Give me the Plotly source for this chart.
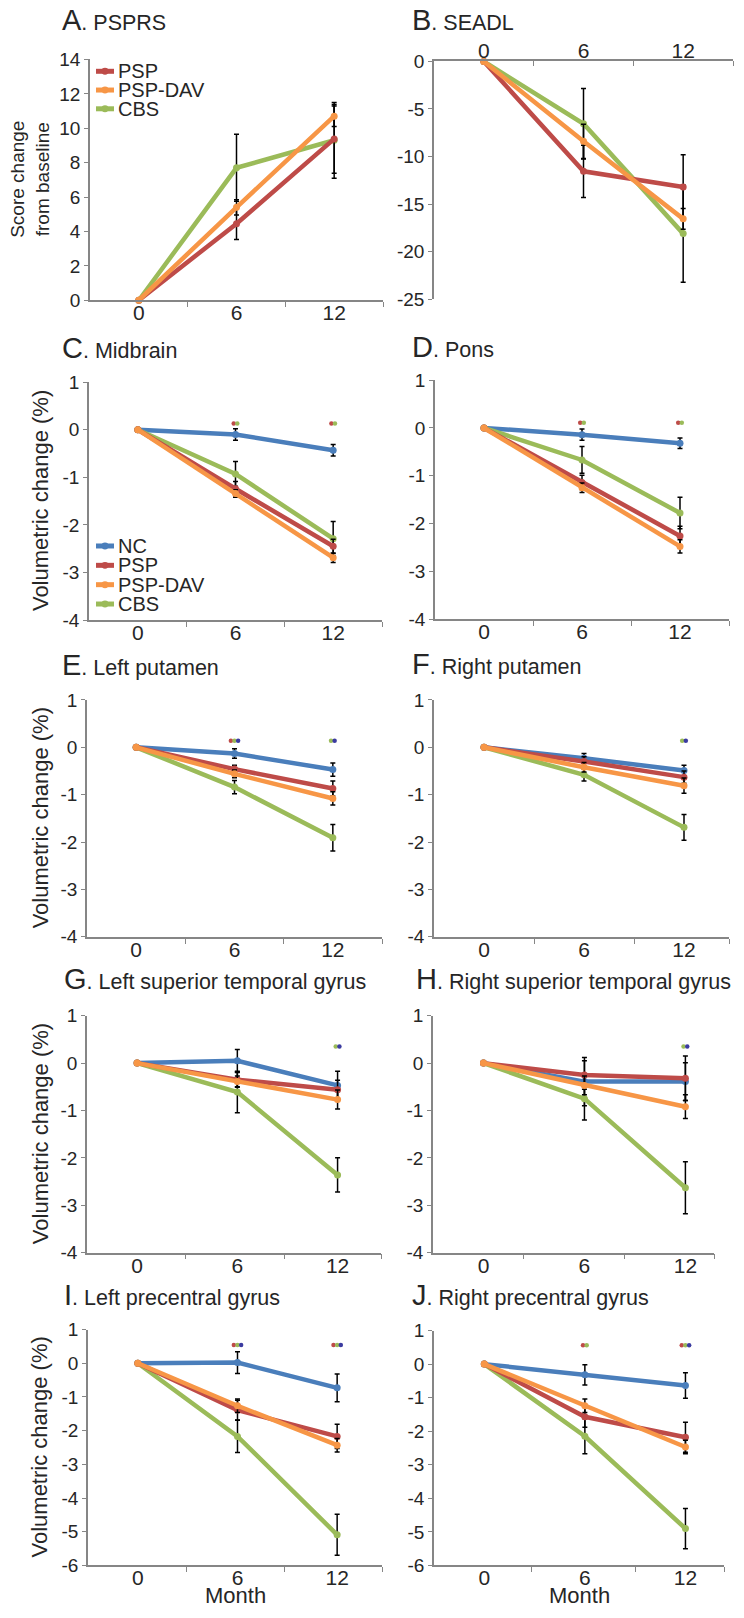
import plotly.graph_objects as go

# the page body adds an 8px margin on every side; size the figure so the page is exactly 744x1618
OFF = 8
W, H = 744 - 2 * OFF, 1618 - 2 * OFF
FONT = "Liberation Sans, Arial, sans-serif"

months = [0, 6, 12]
month_labels = ["0", "6", "12"]
groups = ["NC", "PSP", "PSP-DAV", "CBS"]
draw_order = ["NC", "CBS", "PSP", "PSP-DAV"]
group_colors = {"NC": "#4A7EBB", "PSP": "#BE4B48", "PSP-DAV": "#F79646", "CBS": "#9BBB59"}
sig_colors = {"PSP vs NC": "#BE4B48", "CBS vs NC": "#9BBB59", "CBS vs PSP": "#3B3BA0"}

# y tick values per panel type
psprs_yticks = [0, 2, 4, 6, 8, 10, 12, 14]
seadl_yticks = [-25, -20, -15, -10, -5, 0]
vol_yticks = [-4, -3, -2, -1, 0, 1]
pre_yticks = [-6, -5, -4, -3, -2, -1, 0, 1]

# A. PSPRS
psprs_mean = {"PSP": [0, 4.45, 9.38], "PSP-DAV": [0, 5.4, 10.7], "CBS": [0, 7.7, 9.3]}
psprs_se = {"PSP": [None, 0.92, 2.0], "PSP-DAV": [None, 0.45, 0.6], "CBS": [None, 1.95, 2.2]}
# B. SEADL
seadl_mean = {"PSP": [0, -11.55, -13.2], "PSP-DAV": [0, -8.4, -16.55], "CBS": [0, -6.55, -18.1]}
seadl_se = {"PSP": [None, 2.75, 3.4], "PSP-DAV": [None, 1.8, 1.1], "CBS": [None, 3.7, 5.1]}
# C. Midbrain
midbrain_mean = {"NC": [0, -0.10, -0.43], "PSP": [0, -1.24, -2.45], "PSP-DAV": [0, -1.34, -2.69], "CBS": [0, -0.93, -2.29]}
midbrain_se = {"NC": [None, 0.12, 0.12], "PSP": [None, 0.15, 0.15], "PSP-DAV": [None, 0.08, 0.1], "CBS": [None, 0.26, 0.36]}
midbrain_sig = {6: ["PSP vs NC", "CBS vs NC"], 12: ["PSP vs NC", "CBS vs NC"]}
# D. Pons
pons_mean = {"NC": [0, -0.14, -0.32], "PSP": [0, -1.14, -2.26], "PSP-DAV": [0, -1.25, -2.48], "CBS": [0, -0.67, -1.78]}
pons_se = {"NC": [None, 0.12, 0.11], "PSP": [None, 0.15, 0.2], "PSP-DAV": [None, 0.1, 0.14], "CBS": [None, 0.28, 0.33]}
pons_sig = {6: ["PSP vs NC", "CBS vs NC"], 12: ["PSP vs NC", "CBS vs NC"]}
# E. Left putamen
lput_mean = {"NC": [0, -0.13, -0.47], "PSP": [0, -0.46, -0.87], "PSP-DAV": [0, -0.56, -1.08], "CBS": [0, -0.84, -1.91]}
lput_se = {"NC": [None, 0.1, 0.14], "PSP": [None, 0.08, 0.16], "PSP-DAV": [None, 0.08, 0.14], "CBS": [None, 0.14, 0.28]}
lput_sig = {6: ["PSP vs NC", "CBS vs NC", "CBS vs PSP"], 12: ["CBS vs NC", "CBS vs PSP"]}
# F. Right putamen
rput_mean = {"NC": [0, -0.23, -0.49], "PSP": [0, -0.30, -0.63], "PSP-DAV": [0, -0.42, -0.81], "CBS": [0, -0.58, -1.69]}
rput_se = {"NC": [None, 0.1, 0.11], "PSP": [None, 0.1, 0.13], "PSP-DAV": [None, 0.1, 0.16], "CBS": [None, 0.13, 0.27]}
rput_sig = {6: [], 12: ["CBS vs NC", "CBS vs PSP"]}
# G. Left superior temporal gyrus
lstg_mean = {"NC": [0, 0.05, -0.47], "PSP": [0, -0.35, -0.56], "PSP-DAV": [0, -0.39, -0.77], "CBS": [0, -0.61, -2.36]}
lstg_se = {"NC": [None, 0.24, 0.3], "PSP": [None, 0.15, 0.2], "PSP-DAV": [None, 0.12, 0.2], "CBS": [None, 0.44, 0.36]}
lstg_sig = {6: [], 12: ["CBS vs NC", "CBS vs PSP"]}
# H. Right superior temporal gyrus
rstg_mean = {"NC": [0, -0.39, -0.39], "PSP": [0, -0.25, -0.32], "PSP-DAV": [0, -0.47, -0.92], "CBS": [0, -0.75, -2.63]}
rstg_se = {"NC": [None, 0.51, 0.4], "PSP": [None, 0.3, 0.47], "PSP-DAV": [None, 0.2, 0.25], "CBS": [None, 0.45, 0.55]}
rstg_sig = {6: [], 12: ["CBS vs NC", "CBS vs PSP"]}
# I. Left precentral gyrus
lpre_mean = {"NC": [0, 0.02, -0.73], "PSP": [0, -1.39, -2.17], "PSP-DAV": [0, -1.26, -2.43], "CBS": [0, -2.17, -5.09]}
lpre_se = {"NC": [None, 0.32, 0.41], "PSP": [None, 0.29, 0.36], "PSP-DAV": [None, 0.2, 0.2], "CBS": [None, 0.48, 0.61]}
lpre_sig = {6: ["PSP vs NC", "CBS vs NC", "CBS vs PSP"], 12: ["PSP vs NC", "CBS vs NC", "CBS vs PSP"]}
# J. Right precentral gyrus
rpre_mean = {"NC": [0, -0.32, -0.64], "PSP": [0, -1.57, -2.18], "PSP-DAV": [0, -1.24, -2.47], "CBS": [0, -2.15, -4.90]}
rpre_se = {"NC": [None, 0.3, 0.38], "PSP": [None, 0.31, 0.45], "PSP-DAV": [None, 0.2, 0.2], "CBS": [None, 0.52, 0.6]}
rpre_sig = {6: ["PSP vs NC", "CBS vs NC"], 12: ["PSP vs NC", "CBS vs NC", "CBS vs PSP"]}

# layout per panel (positions in page pixels)
panels = [
    dict(letter="A", title="PSPRS", mean=psprs_mean, se=psprs_se, sig=None, sig_y=None,
         yr=[0, 14], yt=psprs_yticks, xd=(90, 383), xmax=15, minor=[3, 9, 15], yd=(50, 294), tx=64, tb=27, side="bottom"),
    dict(letter="B", title="SEADL", mean=seadl_mean, se=seadl_se, sig=None, sig_y=None,
         yr=[-25, 0], yt=seadl_yticks, xd=(434, 733), xmax=15, minor=[3, 9, 15], yd=(52, 293), tx=414, tb=27, side="top"),
    dict(letter="C", title="Midbrain", mean=midbrain_mean, se=midbrain_se, sig=midbrain_sig, sig_y=0.13,
         yr=[-4, 1], yt=vol_yticks, xd=(89, 382), xmax=15, minor=[3, 9, 15], yd=(377, 618), tx=64, tb=360, side="bottom"),
    dict(letter="D", title="Pons", mean=pons_mean, se=pons_se, sig=pons_sig, sig_y=0.11,
         yr=[-4, 1], yt=vol_yticks, xd=(435, 729), xmax=15, minor=[3, 9, 15], yd=(375, 617), tx=414, tb=359, side="bottom"),
    dict(letter="E", title="Left putamen", mean=lput_mean, se=lput_se, sig=lput_sig, sig_y=0.14,
         yr=[-4, 1], yt=vol_yticks, xd=(87, 382), xmax=15, minor=[3, 9, 15], yd=(699, 939), tx=64, tb=681, side="bottom"),
    dict(letter="F", title="Right putamen", mean=rput_mean, se=rput_se, sig=rput_sig, sig_y=0.14,
         yr=[-4, 1], yt=vol_yticks, xd=(434, 729), xmax=14.7, minor=[3, 9, 14.7], yd=(699, 939), tx=414, tb=680, side="bottom"),
    dict(letter="G", title="Left superior temporal gyrus", mean=lstg_mean, se=lstg_se, sig=lstg_sig, sig_y=0.35,
         yr=[-4, 1], yt=vol_yticks, xd=(87, 381), xmax=14.6, minor=[2.9, 8.8, 14.6], yd=(1019, 1259), tx=66, tb=999, side="bottom"),
    dict(letter="H", title="Right superior temporal gyrus", mean=rstg_mean, se=rstg_se, sig=rstg_sig, sig_y=0.35,
         yr=[-4, 1], yt=vol_yticks, xd=(433, 714), xmax=13.7, minor=[2.4, 8.4, 13.7], yd=(1019, 1259), tx=418, tb=999, side="bottom"),
    dict(letter="I", title="Left precentral gyrus", mean=lpre_mean, se=lpre_se, sig=lpre_sig, sig_y=0.54,
         yr=[-6, 1], yt=pre_yticks, xd=(88, 382), xmax=14.7, minor=[2.9, 8.8, 14.7], yd=(1337, 1576), tx=66, tb=1319, side="bottom"),
    dict(letter="J", title="Right precentral gyrus", mean=rpre_mean, se=rpre_se, sig=rpre_sig, sig_y=0.56,
         yr=[-6, 1], yt=pre_yticks, xd=(434, 724), xmax=14.3, minor=[2.8, 9.0, 14.3], yd=(1338, 1576), tx=414, tb=1319, side="bottom"),
]


def px(x):
    return (x - OFF) / W


def py(y):
    return 1 - (y - OFF) / H


AXIS_GRAY = "#868686"
TXT = "#262626"
YTICK_FONT = dict(family=FONT, size=19, color=TXT)
XTICK_FONT = dict(family=FONT, size=21, color=TXT)

fig = go.Figure()
layout = dict(width=W, height=H, margin=dict(l=0, r=0, t=0, b=0), autosize=False,
              plot_bgcolor="white", paper_bgcolor="white", showlegend=False,
              font=dict(family=FONT, color=TXT))
annotations = []
shapes = []

for i, p in enumerate(panels):
    sfx = "" if i == 0 else str(i + 1)
    xa, ya = "x" + sfx, "y" + sfx
    for g in draw_order:
        if g not in p["mean"]:
            continue
        fig.add_trace(go.Scatter(
            x=months, y=p["mean"][g], xaxis=xa, yaxis=ya, mode="lines+markers", name=g,
            line=dict(color=group_colors[g], width=4.5),
            marker=dict(color=group_colors[g], size=7),
            error_y=dict(type="data", array=p["se"][g], visible=True, color="black",
                         thickness=1.5, width=2.5),
            cliponaxis=False,
        ))
    if p["sig"]:
        for m, comps in p["sig"].items():
            n = len(comps)
            for k, c in enumerate(comps):
                off = (k - (n - 1) / 2) * 0.22
                fig.add_trace(go.Scatter(
                    x=[m + off], y=[p["sig_y"]], xaxis=xa, yaxis=ya, mode="markers",
                    marker=dict(color=sig_colors[c], size=4.5), cliponaxis=False, hoverinfo="skip"))

    layout["xaxis" + sfx] = dict(
        domain=[px(p["xd"][0]), px(p["xd"][1])], range=[-3, p["xmax"]], anchor=ya,
        side=p["side"], showline=True, linecolor=AXIS_GRAY, linewidth=1.5, mirror=False,
        showgrid=False, zeroline=False, tickmode="array", tickvals=months, ticktext=month_labels,
        ticks="", tickfont=XTICK_FONT, ticklabelstandoff=-7,
        minor=dict(tickvals=p["minor"], ticks="inside" if p["side"] == "top" else "outside",
                   ticklen=5, tickcolor=AXIS_GRAY, tickwidth=1.2, showgrid=False),
    )
    layout["yaxis" + sfx] = dict(
        domain=[py(p["yd"][1]), py(p["yd"][0])], range=p["yr"], anchor=xa,
        showline=True, linecolor=AXIS_GRAY, linewidth=1.5, showgrid=False, zeroline=False,
        tickmode="array", tickvals=p["yt"], ticktext=[str(v) for v in p["yt"]],
        ticks="outside", ticklen=4, tickcolor=AXIS_GRAY, tickwidth=1.2,
        tickfont=YTICK_FONT,
    )
    annotations.append(dict(
        text="<span style='font-size:29px'>%s</span>. %s" % (p["letter"], p["title"]),
        xref="paper", yref="paper", x=px(p["tx"] - 3), y=py(p["tb"]), xanchor="left", yanchor="bottom",
        showarrow=False, borderpad=0, font=dict(family=FONT, size=21.5, color=TXT),
    ))

# y-axis titles
annotations.append(dict(text="Score change<br>from baseline", xref="paper", yref="paper",
                        x=px(30), y=py(172), textangle=-90, showarrow=False,
                        xanchor="center", yanchor="middle",
                        font=dict(family=FONT, size=19, color=TXT)))
for idx in [2, 4, 6, 8]:
    p = panels[idx]
    annotations.append(dict(text="Volumetric change (%)", xref="paper", yref="paper",
                            x=px(40), y=py((p["yd"][0] + p["yd"][1]) / 2), textangle=-90,
                            xanchor="center", yanchor="middle",
                            showarrow=False, font=dict(family=FONT, size=22, color=TXT)))
# Month titles
for idx in [8, 9]:
    p = panels[idx]
    annotations.append(dict(text="Month", xref="paper", yref="paper",
                            x=px((p["xd"][0] + p["xd"][1]) / 2), y=py(1606), showarrow=False,
                            xanchor="center", yanchor="middle", borderpad=0,
                            font=dict(family=FONT, size=22, color=TXT)))

# legends (panel A and panel C)
legend_specs = [
    (["PSP", "PSP-DAV", "CBS"], 62, 19),
    (groups, 543, 19.6),
]
for names, y0, step in legend_specs:
    for k, g in enumerate(names):
        yy = y0 + k * step
        shapes.append(dict(type="line", xref="paper", yref="paper", x0=px(96), x1=px(114),
                           y0=py(yy), y1=py(yy), line=dict(color=group_colors[g], width=5)))
        shapes.append(dict(type="circle", xref="paper", yref="paper", x0=px(101.5), x1=px(108.5),
                           y0=py(yy - 3.5), y1=py(yy + 3.5), fillcolor=group_colors[g],
                           line=dict(width=0)))
        annotations.append(dict(text=g, xref="paper", yref="paper", x=px(116), y=py(yy),
                                xanchor="left", yanchor="middle", showarrow=False,
                                font=dict(family=FONT, size=20, color=TXT)))

layout["annotations"] = annotations
layout["shapes"] = shapes
fig.update_layout(**layout)
fig.write_html("out.html")
